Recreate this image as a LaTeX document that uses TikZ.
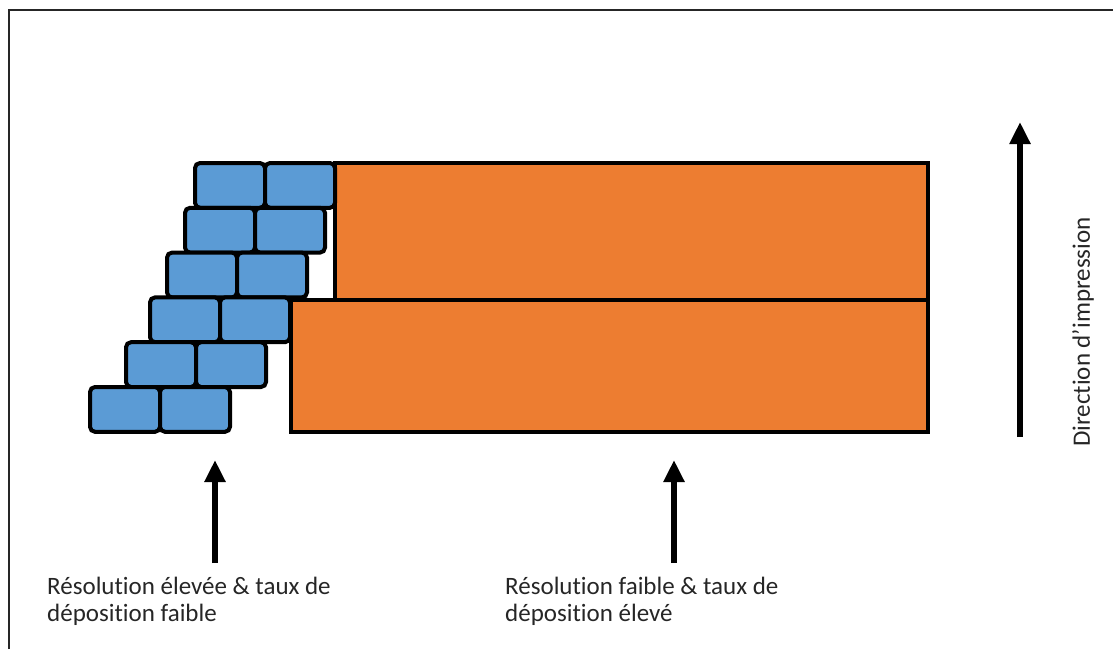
\documentclass[tikz,border=0pt]{standalone}
\usepackage{fontspec}
\setmainfont[Ligatures=NoCommon]{Carlito}
\usetikzlibrary{arrows.meta}
\definecolor{brickblue}{HTML}{5B9BD5}
\definecolor{slaborange}{HTML}{ED7D31}
\tikzset{
  brick/.style={draw=black, line width=4pt, fill=brickblue, rounded corners=5pt},
  slab/.style={draw=black, line width=4pt, fill=slaborange},
  pointer/.style={line width=6pt, -{Triangle[width=20pt,length=22pt]}},
  caption/.style={inner sep=0pt, align=left, text=black!85,
    font=\fontsize{25}{27}\selectfont},
}

\begin{document}
\begin{tikzpicture}[x=1pt,y=-1pt]
            \useasboundingbox (0,0) rectangle (1113,649);
            % Frame: only the top and left edges show
            \draw [line width=1.5pt, black!85] (9,649) -- (9,10) -- (1113,10);

            % Big layers (low resolution):
            \draw [slab] (335,163) rectangle (928,300);
            \draw [slab] (291,300) rectangle (928,432);

            % Small bricks (high resolution), two per row:
            \foreach \row/\xl in {0/195,1/185,2/167,3/150,4/126,5/90}{%
                \draw [brick] (\xl,163+\row*44.8) rectangle ++(70,44.8);
                \draw [brick] (\xl+70,163+\row*44.8) rectangle ++(70,44.8);
            }

            % Labels and arrows:
            \node [caption, anchor=north west] (fine) at (47,577)
                {Résolution élevée \& taux de\\déposition faible};
            \node [caption, anchor=north west] (coarse) at (505,577)
                {Résolution faible \& taux de\\déposition élevé};
            \node [caption, rotate=90] (dir) at (1083,332) {Direction d’impression};

            \coordinate (fine foot) at (215,563);
            \coordinate (fine tip) at (215,460);
            \coordinate (coarse foot) at (674,563);
            \coordinate (coarse tip) at (674,460);
            \coordinate (dir foot) at (1020,437);
            \coordinate (dir tip) at (1020,122);
            \draw [pointer] (fine foot) -- (fine tip);
            \draw [pointer] (coarse foot) -- (coarse tip);
            \draw [pointer] (dir foot) -- (dir tip);
\end{tikzpicture}
\end{document}
